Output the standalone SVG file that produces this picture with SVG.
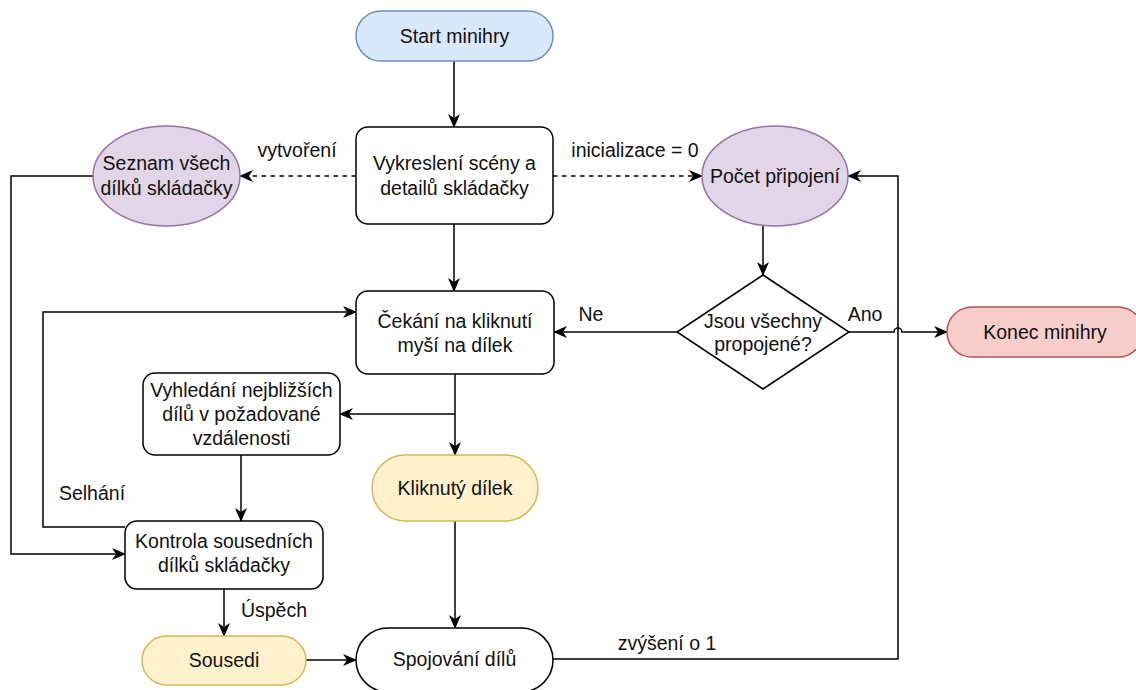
<svg xmlns="http://www.w3.org/2000/svg" width="1136" height="690" viewBox="0 0 1136 690">
  <defs>
    <marker id="arrow" viewBox="0 0 14 12" refX="13" refY="6" markerWidth="14" markerHeight="12" markerUnits="userSpaceOnUse" orient="auto">
      <path d="M0,0 L14,6 L0,12 L4,6 Z" fill="#000"/>
    </marker>
    <style>
      text { font-family: "Liberation Sans", Arial, sans-serif; font-size: 19.5px; fill: #111; text-anchor: middle; }
      .box { fill: #fff; stroke: #000; stroke-width: 1.5; }
      .blue { fill: #dae8fc; stroke: #6c8ebf; stroke-width: 1.5; }
      .red { fill: #f8cecc; stroke: #b85450; stroke-width: 1.5; }
      .purple { fill: #e1d5e7; stroke: #9673a6; stroke-width: 1.5; }
      .yellow { fill: #fff2cc; stroke: #d6b656; stroke-width: 1.5; }
      .edge { fill: none; stroke: #000; stroke-width: 1.5; }
      .dash { stroke-dasharray: 4.5 4.5; }
    </style>
  </defs>

  <!-- connectors -->
  <g id="connectors">
    <path class="edge" d="M454,61 V127" marker-end="url(#arrow)"/>
    <path class="edge dash" d="M356,176 H240" marker-end="url(#arrow)"/>
    <path class="edge dash" d="M553,176 H702" marker-end="url(#arrow)"/>
    <path class="edge" d="M454,224 V291" marker-end="url(#arrow)"/>
    <path class="edge" d="M763,226 V275" marker-end="url(#arrow)"/>
    <path class="edge" d="M677,332 H554" marker-end="url(#arrow)"/>
    <path class="edge" d="M849,332 H894 A4,4 0 0 1 902,332 H947" marker-end="url(#arrow)"/>
    <path class="edge" d="M455,374 V455" marker-end="url(#arrow)"/>
    <path class="edge" d="M455,414 H340" marker-end="url(#arrow)"/>
    <path class="edge" d="M241,455 V521" marker-end="url(#arrow)"/>
    <path class="edge" d="M125,527 H43 V312 H356" marker-end="url(#arrow)"/>
    <path class="edge" d="M93,176 H11 V554 H125" marker-end="url(#arrow)"/>
    <path class="edge" d="M224,589 V636" marker-end="url(#arrow)"/>
    <path class="edge" d="M306,660 H356" marker-end="url(#arrow)"/>
    <path class="edge" d="M455,521 V628" marker-end="url(#arrow)"/>
    <path class="edge" d="M553,659 H898 V176 H848" marker-end="url(#arrow)"/>

    <text x="297" y="157">vytvoření</text>
    <text x="635" y="157">inicializace = 0</text>
    <text x="591" y="321">Ne</text>
    <text x="865" y="321">Ano</text>
    <text x="92" y="500">Selhání</text>
    <text x="274" y="617">Úspěch</text>
    <text x="667" y="650">zvýšení o 1</text>
  </g>

  <g id="start">
    <rect class="blue" x="356" y="11" width="197" height="50" rx="25"/>
    <text x="454.5" y="43">Start minihry</text>
  </g>

  <g id="draw-scene">
    <rect class="box" x="356" y="127" width="197" height="97" rx="12"/>
    <text x="454.5" y="170">Vykreslení scény a</text>
    <text x="454.5" y="195">detailů skládačky</text>
  </g>

  <g id="piece-list">
    <ellipse class="purple" cx="166.5" cy="176" rx="73.5" ry="50"/>
    <text x="166.5" y="170">Seznam všech</text>
    <text x="166.5" y="195">dílků skládačky</text>
  </g>

  <g id="connection-count">
    <ellipse class="purple" cx="775" cy="176" rx="73" ry="50"/>
    <text x="775" y="183">Počet připojení</text>
  </g>

  <g id="all-connected">
    <polygon class="box" points="763,275 849,332 763,389 677,332"/>
    <text x="763" y="328">Jsou všechny</text>
    <text x="763" y="351">propojené?</text>
  </g>

  <g id="end">
    <rect class="red" x="947" y="307" width="196" height="50" rx="25"/>
    <text x="1045" y="339">Konec minihry</text>
  </g>

  <g id="wait-click">
    <rect class="box" x="356" y="291" width="198" height="83" rx="12"/>
    <text x="455" y="328">Čekání na kliknutí</text>
    <text x="455" y="352">myší na dílek</text>
  </g>

  <g id="find-nearest">
    <rect class="box" x="143" y="373" width="197" height="82" rx="12"/>
    <text x="241.5" y="397">Vyhledání nejbližších</text>
    <text x="241.5" y="421">dílů v požadované</text>
    <text x="241.5" y="445">vzdálenosti</text>
  </g>

  <g id="clicked-piece">
    <rect class="yellow" x="372" y="455" width="166" height="66" rx="33"/>
    <text x="455" y="495">Kliknutý dílek</text>
  </g>

  <g id="check-neighbours">
    <rect class="box" x="125" y="521" width="198" height="68" rx="12"/>
    <text x="224" y="548">Kontrola sousedních</text>
    <text x="224" y="572">dílků skládačky</text>
  </g>

  <g id="neighbours">
    <rect class="yellow" x="142" y="636" width="164" height="49" rx="24.5"/>
    <text x="224" y="667">Sousedi</text>
  </g>

  <g id="join-pieces">
    <rect class="box" x="356" y="628" width="197" height="64" rx="32"/>
    <text x="454.5" y="666">Spojování dílů</text>
  </g>
</svg>
